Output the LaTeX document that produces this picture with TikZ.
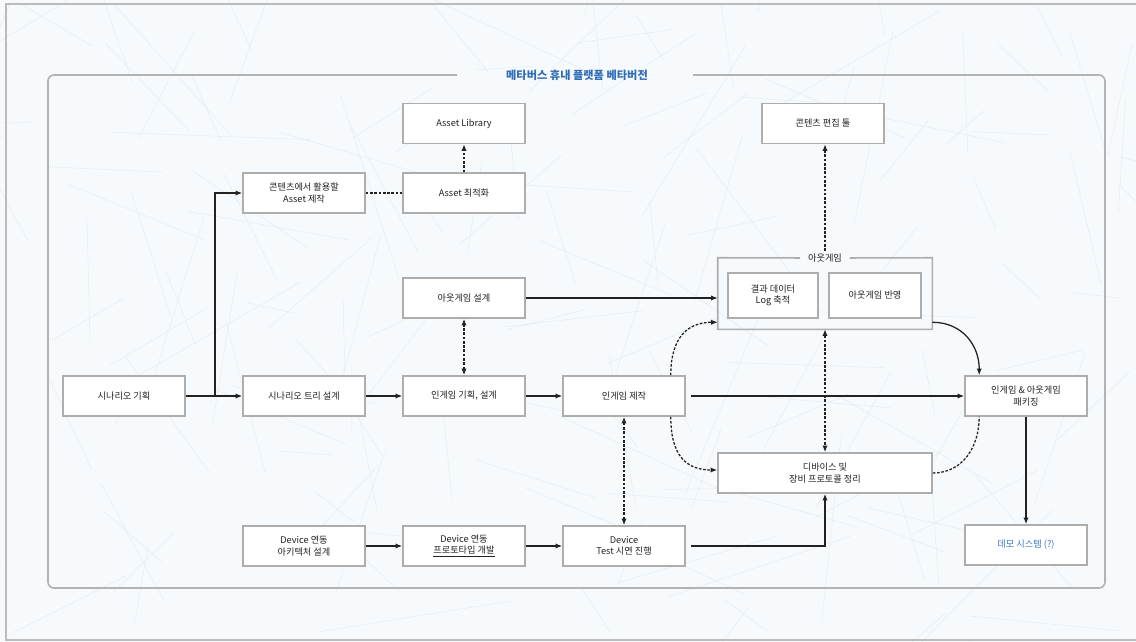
\documentclass[tikz,border=0pt]{standalone}
\usepackage{fontspec}
\setmainfont{Noto Sans CJK KR}
\usetikzlibrary{arrows.meta,calc}

\definecolor{bg}{HTML}{F7FAFC}
\definecolor{net}{HTML}{E4EEF4}
\definecolor{boxline}{HTML}{ADADAD}
\definecolor{frameline}{HTML}{B3B3B3}
\definecolor{ink}{HTML}{222222}
\definecolor{titleblue}{HTML}{2F6DB8}
\definecolor{demoblue}{HTML}{3A78C9}

\tikzset{
  box/.style={draw=boxline, line width=1.15pt, fill=white,
    minimum width=91.5pt, minimum height=30pt, align=center,
    font=\fontsize{6.9}{8.6}\selectfont, text=ink, inner sep=1pt},
  widebox/.style={box, minimum width=160.5pt},
  subbox/.style={box, minimum height=33.75pt},
  link/.style={draw=ink, line width=0.95pt},
  arr/.style={link, -{Latex[length=5pt,width=4pt]}},
  dlink/.style={link, dash pattern=on 2pt off 1.2pt},
  darr/.style={dlink, -{Latex[length=5pt,width=4pt]}},
  dboth/.style={dlink, {Latex[length=5pt,width=4pt]}-{Latex[length=5pt,width=4pt]}},
  frame/.style={draw=frameline, line width=1.2pt},
}

\begin{document}
\begin{tikzpicture}[x=0.75pt, y=-0.75pt]
  % canvas and faint network texture
  \fill[bg] (0,0) rectangle (1136,642);
  \useasboundingbox (0,0) rectangle (1136,642);
  \pgfmathsetseed{11}
  \foreach \i in {1,...,160} {
    \pgfmathsetmacro{\xa}{rnd*1136}
    \pgfmathsetmacro{\ya}{rnd*642}
    \pgfmathsetmacro{\ang}{rnd*360}
    \pgfmathsetmacro{\len}{50+rnd*150}
    \draw[net, line width=0.4pt] (\xa,\ya) -- ++(\ang:\len);
  }
  % outer page edge
  \draw[draw=frameline!90, line width=1.6pt] (1136,4) -- (6,4) -- (6,640) -- (1136,640);

  % title and rounded frame
  \node[font=\bfseries\fontsize{8.4}{10}\selectfont, text=titleblue] (title) at (577,75) {메타버스 휴내 플랫폼 베타버전};
  \draw[frame, rounded corners=4.5pt] (457,75) -- (48,75) -- (48,588) -- (1105,588) -- (1105,75) -- (693,75);

  % process boxes
  \node[box] (lib)    at (464,123.5) {Asset Library};
  \node[box] (edit)   at (823,123.5) {콘텐츠 편집 툴};
  \node[box] (make)   at (304,193)   {콘텐츠에서 활용할\\Asset 제작};
  \node[box] (opt)    at (464,193)   {Asset 최적화};
  \node[box] (odesign) at (464,298)  {아웃게임 설계};
  \node[box] (scen)   at (124,396)   {시나리오 기획};
  \node[box] (tree)   at (304,396)   {시나리오 트리 설계};
  \node[box] (iplan)  at (464,396)   {인게임 기획, 설계};
  \node[box] (imake)  at (624,396)   {인게임 제작};
  \node[box] (pack)   at (1026,396)  {인게임 \& 아웃게임\\패키징};
  \node[widebox] (dev) at (825,473)  {디바이스 및\\장비 프로토콜 정리};
  \node[box, text=demoblue] (demo) at (1026,545) {데모 시스템 (?)};
  \node[box] (darch)  at (304,546)   {Device 연동\\아키텍처 설계};
  \node[box] (dproto) at (464,546)   {Device 연동\\\underline{프로토타입 개발}};
  \node[box] (dtest)  at (624,546)   {Device\\Test 시연 진행};

  % out-game group
  \node[minimum width=160.5pt, minimum height=53.25pt, inner sep=0pt] (outg) at (825,293.5) {};
  \node[font=\fontsize{6.9}{8.6}\selectfont, text=ink, inner sep=2pt, minimum width=37pt] (olbl) at (825,258) {아웃게임};
  \draw[draw=boxline, line width=1.15pt] (olbl.west) -- (outg.north west) -- (outg.south west)
    -- (outg.south east) -- (outg.north east) -- (olbl.east);
  \node[subbox, minimum width=67.5pt] (logn) at (773,295.5) {결과 데이터\\Log 축적};
  \node[subbox, minimum width=69pt]   (refl) at (875,295.5) {아웃게임 반영};

  % scenario flow
  \coordinate (split) at (215,396);
  \draw[arr] (scen) -- (tree);
  \draw[arr] (split) |- (make);
  \draw[dlink] (make) -- (opt);
  \draw[darr] (opt) -- (lib);
  \draw[arr] (tree) -- (iplan);
  \draw[arr] (iplan) -- (imake);
  \draw[dboth] (iplan) -- (odesign);
  \draw[arr] (odesign.east) -- (odesign.east -| outg.west);
  \draw[arr, shorten <=4pt] (imake) -- (pack);
  \draw[dboth] (imake) -- (dtest);

  % links around the out-game group
  \draw[darr] ($(imake.north east)+(-15,0)$) .. controls +(0,-38) and +(-30,0) .. ($(outg.south west)+(0,-7)$);
  \draw[darr] ($(imake.south east)+(-15,0)$) .. controls +(0,40) and +(-30,0) .. ($(dev.west)+(0,-3)$);
  \draw[darr] (olbl.north) -- (olbl.north |- edit.south);
  \draw[dboth] (outg.south) -- (dev.north);
  \draw[arr] ($(outg.south east)+(0,-7)$) .. controls +(30,0) and +(0,-30) .. ($(pack.north west)+(15,0)$);
  \draw[dlink] (dev.east) .. controls +(30,0) and +(0,30) .. ($(pack.south west)+(15,0)$);
  \draw[arr] (pack) -- (demo);

  % device flow
  \draw[arr] (darch) -- (dproto);
  \draw[arr] (dproto) -- (dtest);
  \draw[arr, shorten <=4pt] (dtest.east) -| (dev.south);
\end{tikzpicture}
\end{document}
